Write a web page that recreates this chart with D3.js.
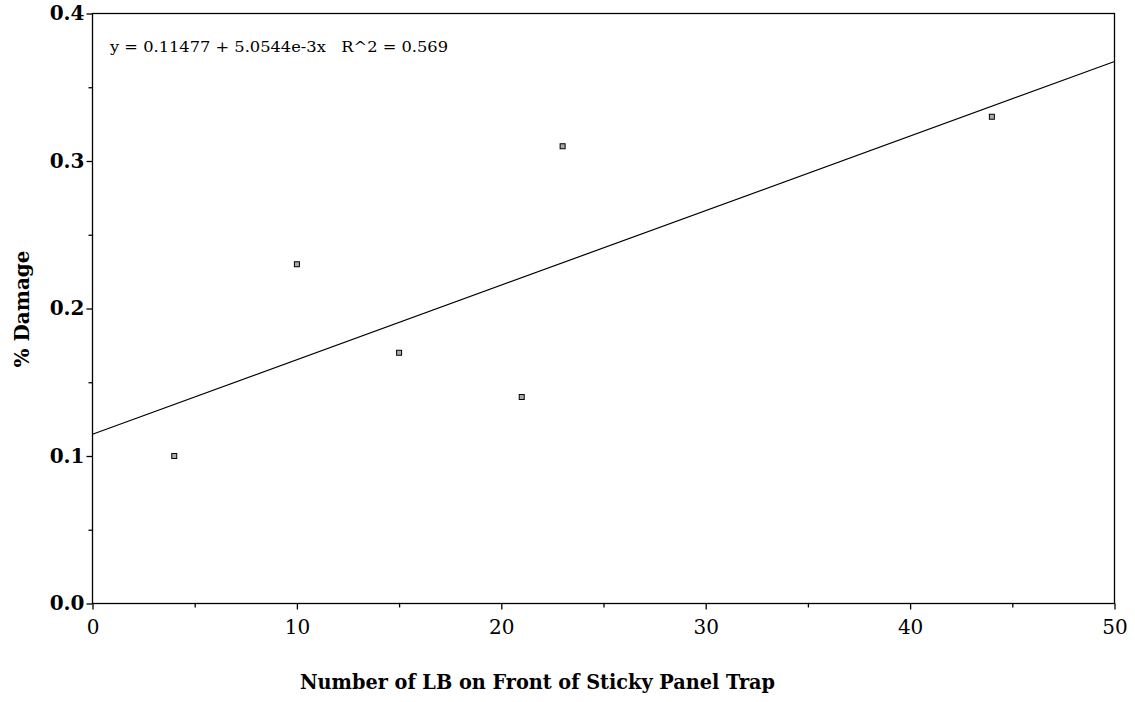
<!DOCTYPE html>
<html><head><meta charset="utf-8">
<script src="https://cdn.jsdelivr.net/npm/d3@7"></script>
<style>body{margin:0;background:#fff}svg{display:block}text{font-family:"DejaVu Serif","Liberation Serif",serif;fill:#000}</style>
</head><body>
<svg id="c" width="1135" height="702"></svg>
<script>
const xValues = [4, 10, 15, 21, 23, 44];
const yValues = [0.10, 0.23, 0.17, 0.14, 0.31, 0.33];
const xTicks = [0, 10, 20, 30, 40, 50];
const yTicks = [0.0, 0.1, 0.2, 0.3, 0.4];
const intercept = 0.11477, slope = 5.0544e-3;
const equationText = "y = 0.11477 + 5.0544e-3x   R^2 = 0.569";
const xTitle = "Number of LB on Front of Sticky Panel Trap";
const yTitle = "% Damage";

const svg = d3.select("#c");
const L = 92.5, R = 1114.5, T = 13.5, B = 603.5;
const x = d3.scaleLinear().domain([0, 50]).range([L, R]);
const y = d3.scaleLinear().domain([0, 0.4]).range([B, T]);

// frame
svg.append("rect").attr("x", L).attr("y", T).attr("width", R - L).attr("height", B - T)
  .attr("fill", "none").attr("stroke", "#000").attr("stroke-width", 1.3);

// x axis
const xa = svg.append("g").attr("transform", `translate(0,${B})`)
  .call(d3.axisBottom(x).tickValues(xTicks).tickFormat(d3.format("d")).tickSize(6).tickPadding(10));
xa.select(".domain").remove();
xa.selectAll("text").attr("font-size", 20).attr("font-weight", 500);
svg.append("g").attr("transform", `translate(0,${B})`)
  .call(d3.axisBottom(x).tickValues(d3.range(5, 50, 10)).tickFormat("").tickSize(4))
  .select(".domain").remove();

// y axis
const ya = svg.append("g").attr("transform", `translate(${L},0)`)
  .call(d3.axisLeft(y).tickValues(yTicks).tickFormat(d3.format(".1f")).tickSize(6).tickPadding(2));
ya.select(".domain").remove();
ya.selectAll("text").attr("font-size", 20).attr("font-weight", 600).attr("dy", "0.32em");
svg.append("g").attr("transform", `translate(${L},0)`)
  .call(d3.axisLeft(y).tickValues(d3.range(0.05, 0.4, 0.1)).tickFormat("").tickSize(4))
  .select(".domain").remove();

svg.selectAll(".tick line").attr("stroke-width", 1.3);

// regression line
const line = d3.line().x(d => x(d)).y(d => y(intercept + slope * d));
svg.append("path").datum([0, 50]).attr("d", line).attr("fill", "none").attr("stroke", "#000").attr("stroke-width", 1.2);

// points
svg.selectAll("rect.pt").data(xValues.map((v, i) => [v, yValues[i]])).enter().append("rect")
  .attr("class", "pt").attr("x", d => x(d[0]) - 2.5).attr("y", d => y(d[1]) - 2.5)
  .attr("width", 5).attr("height", 5).attr("fill", "#aaa").attr("stroke", "#000").attr("stroke-width", 1);

// equation
svg.append("text").attr("x", 110).attr("y", 52).attr("font-size", 15)
  .style("white-space", "pre").attr("xml:space", "preserve")
  .attr("textLength", 338).attr("lengthAdjust", "spacingAndGlyphs").text(equationText);

// titles
svg.append("text").attr("x", 300).attr("y", 689)
  .attr("font-size", 20).attr("font-weight", "bold")
  .attr("textLength", 475).attr("lengthAdjust", "spacingAndGlyphs").text(xTitle);
svg.append("text").attr("transform", `translate(29,${309}) rotate(-90)`).attr("text-anchor", "middle")
  .attr("font-size", 20).attr("font-weight", "bold").text(yTitle);
</script>
</body></html>
